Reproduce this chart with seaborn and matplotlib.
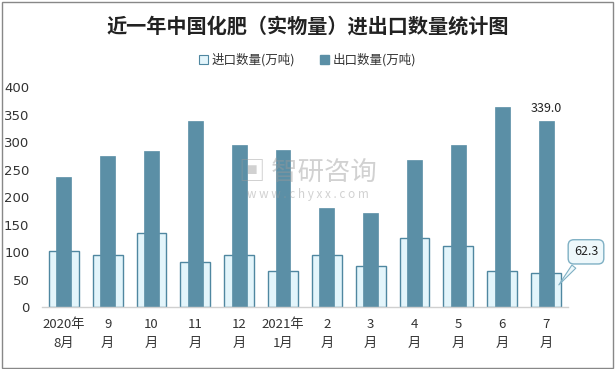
import pandas as pd
import numpy as np
import matplotlib
matplotlib.use("Agg")
import matplotlib.pyplot as plt
import seaborn as sns
from matplotlib.patches import Patch, Rectangle

# --- data ---
months = ["2020年\n8月", "9\n月", "10\n月", "11\n月", "12\n月", "2021年\n1月",
          "2\n月", "3\n月", "4\n月", "5\n月", "6\n月", "7\n月"]
imports = [102, 94.5, 136, 82, 96, 67, 94.5, 74.5, 127, 111, 67, 62.3]
exports = [238, 275, 284, 339, 295, 286, 180.5, 171, 268, 295, 364, 339.0]

imp_face = "#e3f5fb"
imp_edge = "#4f87a0"
exp_color = "#5b8fa6"

sns.set_theme(style="white")
plt.rcParams['font.family'] = ['Noto Sans CJK SC', 'DejaVu Sans']

df = pd.DataFrame({"month": months, "imp": imports, "exp": exports})

fig = plt.figure(figsize=(6.15, 3.69), dpi=100)
ax = fig.add_axes([0.068, 0.167, 0.8556, 0.596])

sns.barplot(data=df, x="month", y="imp", order=months, color=imp_face,
            edgecolor=imp_edge, linewidth=1, width=0.68, saturation=1, ax=ax)
sns.barplot(data=df, x="month", y="exp", order=months, color=exp_color,
            edgecolor=exp_color, linewidth=0.5, width=0.34, saturation=1, ax=ax)

ax.set_xlim(-0.5, 11.5)
ax.set_ylim(0, 400)
ax.set_yticks(range(0, 401, 50))
ax.set_xlabel("")
ax.set_ylabel("")
for s in ["left", "right", "top"]:
    ax.spines[s].set_visible(False)
ax.spines["bottom"].set_color("#d0d0d0")
ax.spines["bottom"].set_linewidth(1)
ax.tick_params(axis="y", length=0, pad=9, labelsize=9.5, labelcolor="#333333")
ax.tick_params(axis="x", length=0, pad=8, labelsize=9.5, labelcolor="#333333")
for t in ax.get_yticklabels():
    t.set_family(['DejaVu Sans'])
for t in ax.get_xticklabels():
    t.set_linespacing(1.55)

# labels for last month
ax.text(11, exports[-1] + 10, f"{exports[-1]:.1f}", ha="center", va="bottom",
        fontsize=9, color="#222222")
ax.annotate(f"{imports[-1]:.1f}", xy=(11.25, 37),
            xytext=(11.91, 101), ha="center", va="center", fontsize=9,
            color="#222222", annotation_clip=False,
            bbox=dict(boxstyle="round,pad=0.45", fc="#eef8fb", ec="#7fb0c4", lw=1),
            arrowprops=dict(arrowstyle="wedge,tail_width=0.4", fc="#eef8fb",
                            ec="#7fb0c4", lw=0.8))

# watermark
fig.text(0.50, 0.534, "▣ 智研咨询", ha="center", va="center", fontsize=19,
         color="#9a9a9a", alpha=0.45)
fig.text(0.50, 0.472, "w w w . c h y x x . c o m", ha="center", va="center",
         fontsize=8.5, color="#9a9a9a", alpha=0.45)

# title and legend
fig.text(0.5, 0.93, "近一年中国化肥（实物量）进出口数量统计图", ha="center", va="center",
         fontsize=14.5, fontweight="bold", color="#222222")
handles = [Patch(fc=imp_face, ec=imp_edge, lw=0.8, label="进口数量(万吨)"),
           Patch(fc=exp_color, ec=exp_color, label="出口数量(万吨)")]
fig.legend(handles=handles, loc="center", bbox_to_anchor=(0.5, 0.838), ncol=2,
           frameon=False, fontsize=9, handlelength=0.7, handleheight=0.7,
           handletextpad=0.3, columnspacing=2.0, labelcolor="#333333")

# outer border
fig.patches.append(Rectangle((0.004, 0.004), 0.992, 0.99, transform=fig.transFigure,
                             fill=False, ec="#888888", lw=1))

fig.savefig("out.png", dpi=100)
